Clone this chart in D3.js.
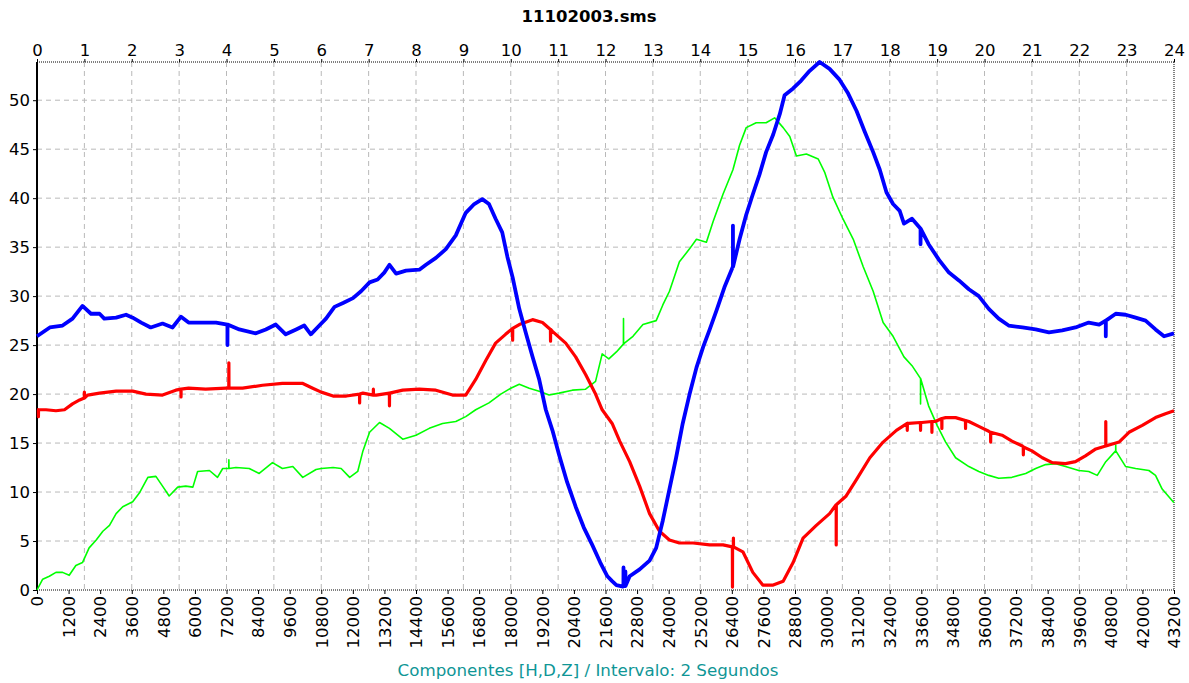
<!DOCTYPE html>
<meta charset="utf-8">

<style type="text/css">
	body {
		margin: 0;
		background: #fff;
	}
	svg text {
		font-family: "DejaVu Sans", sans-serif;
		fill: #000;
	}
	.grid line {
		stroke: #b9b9b9;
		stroke-width: 1;
		stroke-dasharray: 5,4;
	}
	.axis path {
		display: none;
	}
	.axis line {
		stroke: #000;
	}
	.axis text {
		font-size: 16.5px;
	}
	.border {
		stroke: #000;
		stroke-width: 1;
		stroke-dasharray: 1,1;
	}
	.serie {
		fill: none;
		stroke-linejoin: round;
	}
</style>

<body>
</body>

<script src="https://d3js.org/d3.v7.min.js"></script>

<script>

	var title = "11102003.sms";
	var caption = "Componentes [H,D,Z] / Intervalo: 2 Segundos";

	// top axis (hours) and bottom axis (samples, 2 s each)
	var hourTicks = d3.range(0, 25);
	var sampleTicks = d3.range(0, 43201, 1200);
	var valueTicks = d3.range(0, 51, 5);

	// [hour, value]
	var compH = [[0,25.9],[0.27,26.8],[0.54,27.0],[0.75,27.7],[0.96,29.0],[1.14,28.2],[1.32,28.2],[1.42,27.7],[1.67,27.8],[1.88,28.1],[2.02,27.8],[2.2,27.3],[2.4,26.8],[2.65,27.2],[2.86,26.8],[3.04,27.9],[3.2,27.3],[3.5,27.3],[3.78,27.3],[4.02,27.1],[4.27,26.6],[4.62,26.2],[4.83,26.6],[5.04,27.1],[5.25,26.1],[5.47,26.6],[5.64,27.0],[5.78,26.1],[5.96,27.0],[6.1,27.7],[6.28,28.9],[6.46,29.3],[6.67,29.8],[6.84,30.5],[7.02,31.4],[7.19,31.7],[7.33,32.4],[7.44,33.2],[7.58,32.3],[7.79,32.6],[8.07,32.7],[8.21,33.2],[8.42,33.9],[8.63,34.8],[8.84,36.2],[9.05,38.5],[9.23,39.4],[9.4,39.9],[9.54,39.4],[9.68,37.9],[9.82,36.5],[9.93,34.0],[10.04,31.9],[10.18,28.7],[10.32,26.2],[10.46,23.8],[10.6,21.5],[10.74,18.4],[10.88,16.3],[11.02,13.8],[11.19,11.0],[11.37,8.5],[11.54,6.4],[11.72,4.6],[11.89,2.8],[12.04,1.4],[12.14,0.9],[12.23,0.5],[12.37,0.35],[12.51,1.4],[12.72,2.1],[12.93,3.0],[13.07,4.3],[13.21,7.1],[13.35,10.3],[13.49,13.5],[13.63,17.0],[13.77,19.9],[13.92,22.7],[14.06,24.8],[14.2,26.6],[14.34,28.5],[14.51,30.9],[14.69,33.0],[14.83,35.8],[14.97,38.3],[15.11,40.4],[15.25,42.4],[15.39,44.7],[15.54,46.5],[15.68,48.6],[15.78,50.5],[15.96,51.2],[16.13,52.0],[16.31,53.0],[16.52,53.9],[16.73,53.2],[16.94,52.1],[17.12,50.7],[17.3,48.9],[17.47,46.8],[17.65,44.7],[17.79,42.9],[17.93,40.6],[18.07,39.4],[18.21,38.7],[18.3,37.4],[18.47,37.9],[18.65,36.9],[18.82,35.3],[19.04,33.7],[19.25,32.4],[19.46,31.6],[19.67,30.7],[19.88,30.0],[20.09,28.7],[20.3,27.7],[20.51,27.0],[20.8,26.8],[21.08,26.6],[21.36,26.3],[21.64,26.5],[21.92,26.8],[22.2,27.3],[22.42,27.1],[22.56,27.5],[22.77,28.2],[22.98,28.1],[23.19,27.8],[23.4,27.5],[23.61,26.6],[23.79,25.9],[24,26.2]];

	var compD = [[0,18.4],[0.19,18.4],[0.4,18.3],[0.58,18.4],[0.75,19.0],[0.9,19.4],[1.07,19.9],[1.32,20.1],[1.67,20.3],[2.02,20.3],[2.3,20.0],[2.65,19.9],[2.93,20.4],[3.2,20.6],[3.56,20.5],[3.99,20.6],[4.34,20.6],[4.76,20.9],[5.18,21.1],[5.6,21.1],[5.82,20.6],[6.0,20.2],[6.25,19.8],[6.53,19.8],[6.88,20.1],[7.16,19.9],[7.72,20.4],[8.07,20.5],[8.42,20.4],[8.77,19.9],[9.05,19.9],[9.26,21.5],[9.47,23.4],[9.68,25.2],[9.89,26.1],[10.18,27.1],[10.46,27.6],[10.67,27.3],[10.88,26.4],[11.16,25.2],[11.37,23.8],[11.58,22.0],[11.79,20.0],[11.93,18.4],[12.14,17.0],[12.3,15.2],[12.51,13.1],[12.72,10.6],[12.93,7.8],[13.14,6.0],[13.35,5.1],[13.56,4.8],[13.85,4.8],[14.2,4.6],[14.48,4.6],[14.69,4.4],[14.9,3.9],[15.11,1.8],[15.32,0.5],[15.54,0.5],[15.75,0.9],[15.96,2.8],[16.17,5.3],[16.45,6.6],[16.73,7.8],[16.87,8.7],[17.08,9.6],[17.3,11.3],[17.58,13.5],[17.86,15.1],[18.14,16.3],[18.4,17.0],[18.68,17.1],[18.96,17.2],[19.18,17.6],[19.39,17.6],[19.67,17.2],[19.88,16.7],[20.09,16.2],[20.37,15.8],[20.58,15.2],[20.8,14.7],[21.0,14.2],[21.22,13.5],[21.43,13.0],[21.71,12.9],[21.92,13.1],[22.13,13.7],[22.35,14.4],[22.56,14.7],[22.84,15.1],[23.05,16.1],[23.33,16.8],[23.61,17.6],[23.82,18.0],[24,18.3]];

	var compZ = [[0,0],[0.12,1.1],[0.26,1.4],[0.4,1.8],[0.54,1.8],[0.68,1.5],[0.82,2.5],[0.96,2.8],[1.1,4.3],[1.25,5.1],[1.39,6.0],[1.53,6.6],[1.67,7.8],[1.81,8.5],[2.02,9.0],[2.16,9.9],[2.34,11.5],[2.51,11.6],[2.65,10.6],[2.79,9.6],[2.97,10.5],[3.14,10.6],[3.29,10.5],[3.39,12.1],[3.64,12.2],[3.81,11.5],[3.92,12.4],[4.2,12.5],[4.48,12.4],[4.69,11.9],[4.97,13.0],[5.18,12.4],[5.4,12.6],[5.61,11.5],[5.89,12.3],[6.0,12.4],[6.25,12.5],[6.42,12.4],[6.6,11.5],[6.77,12.1],[6.88,14.2],[7.02,16.1],[7.23,17.1],[7.44,16.5],[7.72,15.4],[8.0,15.8],[8.28,16.5],[8.56,17.0],[8.84,17.2],[9.05,17.7],[9.26,18.4],[9.54,19.1],[9.79,20.0],[10.0,20.6],[10.18,21.0],[10.39,20.6],[10.6,20.3],[10.81,19.9],[11.02,20.1],[11.3,20.4],[11.58,20.5],[11.79,21.3],[11.93,24.1],[12.07,23.6],[12.23,24.3],[12.4,25.2],[12.58,25.9],[12.79,27.1],[13.07,27.5],[13.21,29.1],[13.35,30.5],[13.56,33.5],[13.77,34.8],[13.92,35.8],[14.13,35.5],[14.27,37.6],[14.48,40.4],[14.69,42.9],[14.83,45.4],[14.97,47.2],[15.18,47.7],[15.39,47.7],[15.57,48.2],[15.75,47.2],[15.89,46.3],[16.03,44.3],[16.24,44.5],[16.49,44.0],[16.63,42.6],[16.8,40.1],[17.01,37.9],[17.23,35.8],[17.44,33.0],[17.65,30.5],[17.86,27.3],[18.07,25.9],[18.3,23.8],[18.47,22.9],[18.65,21.6],[18.82,18.8],[19.0,16.8],[19.18,15.1],[19.39,13.5],[19.67,12.6],[19.88,12.1],[20.09,11.7],[20.3,11.4],[20.58,11.5],[20.87,11.9],[21.08,12.4],[21.29,12.8],[21.5,12.9],[21.71,12.6],[21.99,12.2],[22.2,12.1],[22.38,11.7],[22.56,13.1],[22.77,14.2],[22.98,12.6],[23.19,12.4],[23.47,12.2],[23.61,11.7],[23.75,10.3],[24,8.9]];

	// single-sample spikes: [hour, base, tip]
	var spikesH = [[4.02,27.1,25.0],[12.38,0.4,2.3],[12.42,0.4,1.9],[14.69,33.0,37.2],[18.65,36.9,35.3],[22.56,27.5,25.9]];
	var spikesD = [[0.03,18.4,17.7],[1.0,19.6,20.2],[3.04,20.5,19.7],[4.05,20.6,23.2],[6.81,20.0,19.1],[7.1,19.9,20.5],[7.44,20.1,18.8],[10.04,26.7,25.5],[10.84,26.6,25.4],[14.68,4.4,0.3],[14.70,4.4,5.3],[16.87,8.7,4.6],[18.37,17.0,16.3],[18.65,17.1,16.3],[18.89,17.2,16.1],[19.1,17.5,16.5],[19.6,17.3,16.5],[20.13,16.1,15.1],[20.82,14.6,13.8],[22.56,14.7,17.2]];
	var spikesZ = [[4.05,12.4,13.3],[12.38,25.1,27.7],[18.65,21.6,19.0],[22.77,14.2,14.8]];

	var margin = {top: 62, right: 15, bottom: 93, left: 37};
	var width = 1189 - margin.left - margin.right;
	var height = 683 - margin.top - margin.bottom;

	var svg = d3.select("body").append("svg")
		.attr("width", 1189)
		.attr("height", 683);

	svg.append("text")
		.attr("x", 589)
		.attr("y", 22)
		.attr("text-anchor", "middle")
		.style("font-size", "16.5px")
		.style("font-weight", "bold")
		.text(title);

	svg.append("text")
		.attr("x", 588)
		.attr("y", 676)
		.attr("text-anchor", "middle")
		.style("font-size", "16.7px")
		.style("fill", "#0f9696")
		.text(caption);

	var g = svg.append("g")
		.attr("transform", "translate(" + margin.left + "," + margin.top + ")");

	var xHour = d3.scaleLinear().domain([0, 24]).range([0, width]);
	var xSample = d3.scaleLinear().domain([0, 43200]).range([0, width]);
	var yScale = d3.scaleLinear().domain([0, 53.9]).range([height, 0]);

	// grid
	var grid = g.append("g").attr("class", "grid");
	grid.selectAll(".vg")
		.data(hourTicks.slice(1, -1))
		.enter().append("line")
		.attr("x1", function(d) { return xHour(d); })
		.attr("x2", function(d) { return xHour(d); })
		.attr("y1", 0)
		.attr("y2", height);
	grid.selectAll(".hg")
		.data(valueTicks.slice(1))
		.enter().append("line")
		.attr("x1", 0)
		.attr("x2", width)
		.attr("y1", function(d) { return yScale(d); })
		.attr("y2", function(d) { return yScale(d); });

	// frame
	g.append("line").attr("class", "border")
		.attr("x1", 0).attr("x2", width).attr("y1", 0).attr("y2", 0);
	g.append("line").attr("class", "border")
		.attr("x1", 0).attr("x2", width).attr("y1", height).attr("y2", height);
	g.append("line").attr("class", "border")
		.attr("x1", width).attr("x2", width).attr("y1", 0).attr("y2", height);
	g.append("line")
		.attr("x1", 0).attr("x2", 0).attr("y1", 0).attr("y2", height)
		.style("stroke", "#000")
		.style("stroke-width", 2);

	// axes
	g.append("g")
		.attr("class", "axis")
		.call(d3.axisTop(xHour)
			.tickValues(hourTicks)
			.tickSize(3)
			.tickPadding(3)
			.tickFormat(d3.format("d")));

	g.append("g")
		.attr("class", "axis")
		.call(d3.axisLeft(yScale)
			.tickValues(valueTicks)
			.tickSize(4)
			.tickPadding(3)
			.tickFormat(d3.format("d")));

	var bottom = g.append("g")
		.attr("class", "axis")
		.attr("transform", "translate(0," + height + ")")
		.call(d3.axisBottom(xSample)
			.tickValues(sampleTicks)
			.tickSize(4)
			.tickFormat(d3.format("d")));

	bottom.selectAll("text")
		.attr("y", 0)
		.attr("x", -6)
		.attr("dy", "0.35em")
		.attr("transform", "rotate(-90)")
		.style("text-anchor", "end");

	// lines
	function addSpikes(pts, spikes) {
		var out = pts.slice();
		spikes.forEach(function(s) {
			out.push([s[0] - 0.002, s[1]], [s[0], s[2]], [s[0] + 0.002, s[1]]);
		});
		return out.sort(function(a, b) { return a[0] - b[0]; });
	}

	var line = d3.line()
		.x(function(d) { return xHour(d[0]); })
		.y(function(d) { return yScale(d[1]); });

	var series = [
		{name: "Z", data: addSpikes(compZ, spikesZ), color: "#00ff00", w: 1.6},
		{name: "D", data: addSpikes(compD, spikesD), color: "#ff0000", w: 3.2},
		{name: "H", data: addSpikes(compH, spikesH), color: "#0000ff", w: 3.8}
	];

	g.selectAll(".serie")
		.data(series)
		.enter().append("path")
		.attr("class", "serie")
		.attr("d", function(d) { return line(d.data); })
		.style("stroke", function(d) { return d.color; })
		.style("stroke-width", function(d) { return d.w; });

</script>
